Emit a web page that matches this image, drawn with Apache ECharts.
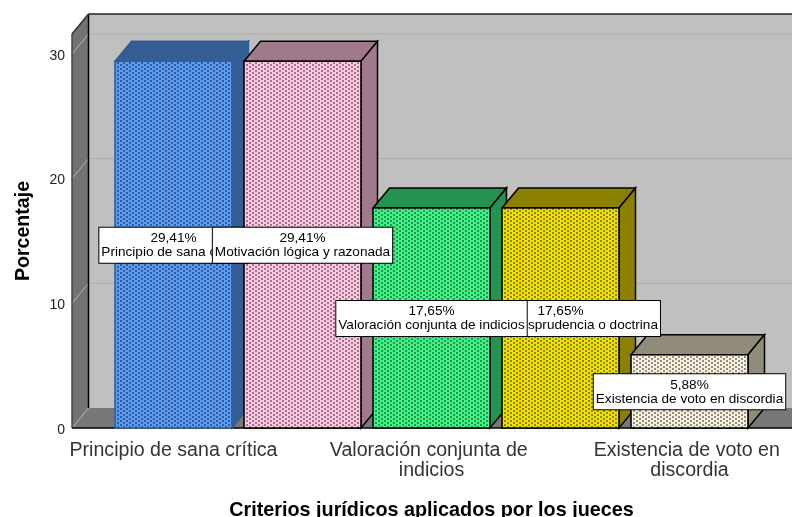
<!DOCTYPE html>
<html>
<head>
<meta charset="utf-8">
<style>
  html, body { margin: 0; padding: 0; background: #fff; }
  #chart { width: 792px; height: 517px; }
</style>
</head>
<body>
<div id="chart"></div>
<script src="https://cdn.jsdelivr.net/npm/echarts@6/dist/echarts.min.js"></script>
<script>
// start of the 4th name is hidden behind the 3rd box in the picture
const categories = [
  'Principio de sana crítica',
  'Motivación lógica y razonada',
  'Valoración conjunta de indicios',
  'Uso de jurisprudencia o doctrina',
  'Existencia de voto en discordia'
]
const percentages = [29.41, 29.41, 17.65, 17.65, 5.88]
const yTicks = [0, 10, 20, 30]

const faceColors = ['#5a9cf5', '#ffc6e4', '#40f585', '#f0e000', '#f5efdc']
const sideColors = ['#345d93', '#a07a8c', '#24934f', '#8c8000', '#918b7a']
const edgeColors = ['#345d93', '#000', '#000', '#000', '#000']

const depthX = 16.5
const depthY = 20
const fontFamily = '"Liberation Sans", Arial, sans-serif'

// dotted fill of the bars, same tile for every colour
function dotPattern(color) {
  const tile = document.createElement('canvas')
  tile.width = 6
  tile.height = 4
  const ctx = tile.getContext('2d')
  ctx.fillStyle = color
  ctx.fillRect(0, 0, 6, 4)
  ctx.fillStyle = 'rgba(0,0,0,0.4)'
  ctx.fillRect(0, 0, 2, 2)
  ctx.fillRect(3, 2, 2, 2)
  return { image: tile, repeat: 'repeat' }
}

function poly(points, fill, stroke, lineWidth) {
  return {
    type: 'polygon',
    shape: { points: points },
    style: { fill: fill, stroke: stroke || null, lineWidth: lineWidth || 0 }
  }
}

function line(x1, y1, x2, y2, stroke, lineWidth) {
  return {
    type: 'line',
    shape: { x1: x1, y1: y1, x2: x2, y2: y2 },
    style: { stroke: stroke, lineWidth: lineWidth }
  }
}

// back wall, left wall and floor
function renderWalls(params, api) {
  const base = api.coord([0, 0])[1]
  const top = api.coord([0, 31.6])[1]
  const left = 72
  const right = api.getWidth()
  const children = [
    poly([[left + depthX, top - depthY], [right, top - depthY], [right, base - depthY], [left + depthX, base - depthY]], '#c0c0c0'),
    poly([[left, top], [left + depthX, top - depthY], [left + depthX, base - depthY], [left, base]], '#737373'),
    poly([[left, base], [left + depthX, base - depthY], [right, base - depthY], [right, base]], '#787878')
  ]
  yTicks.forEach(tick => {
    const y = api.coord([0, tick])[1]
    if (tick > 0) {
      children.push(line(left + depthX, y - depthY, right, y - depthY, '#adadad', 1))
    }
    children.push(line(left, y, left + depthX, y - depthY, '#b4b4b4', 1))
  })
  children.push(line(left + depthX, base - depthY, left + depthX, top - depthY, '#000', 1.5))
  children.push(line(left + depthX, top - depthY, right, top - depthY, '#222', 1.5))
  children.push(line(left, top, left + depthX, top - depthY, '#333', 1.5))
  children.push(line(left, top, left, base, '#444', 1.5))
  children.push(line(left, base, right, base, '#000', 1.5))
  return { type: 'group', children: children }
}

function renderBar(params, api) {
  const i = params.dataIndex
  const center = api.coord([i, api.value(1)])
  const yt = center[1]
  const width = api.size([1, 0])[0] * 0.907
  const xl = center[0] - width / 2
  const xr = center[0] + width / 2
  const yb = api.coord([i, 0])[1]
  const edge = edgeColors[i]
  return {
    type: 'group',
    children: [
      poly([[xl, yt], [xl + depthX, yt - depthY], [xr + depthX, yt - depthY], [xr, yt]], sideColors[i], edge, 1.5),
      poly([[xr, yt], [xr + depthX, yt - depthY], [xr + depthX, yb - depthY], [xr, yb]], sideColors[i], edge, 1.5),
      {
        type: 'rect',
        shape: { x: xl, y: yt, width: width, height: yb - yt },
        style: { fill: dotPattern(faceColors[i]), stroke: edge, lineWidth: 1.5 }
      }
    ]
  }
}

function renderLabel(params, api) {
  const i = params.dataIndex
  const pos = api.coord([i, api.value(1) / 2])
  return {
    type: 'text',
    // the third box sits above the fourth, the others stack left to right
    z2: i === 2 ? 10 : i,
    style: {
      x: pos[0],
      y: pos[1] + 0.5,
      text: percentages[i].toFixed(2).replace('.', ',') + '%\n' + categories[i],
      align: 'center',
      verticalAlign: 'middle',
      font: '13.6px ' + fontFamily,
      lineHeight: 14,
      fill: '#000',
      backgroundColor: '#fff',
      borderColor: '#000',
      borderWidth: 1,
      padding: [7, 2, 0, 2]
    }
  }
}

const chart = echarts.init(document.getElementById('chart'), null, { renderer: 'canvas' })
chart.setOption({
  backgroundColor: '#fff',
  animation: false,
  grid: { left: 109, width: 645, top: 34, height: 394, outerBoundsMode: 'none' },
  xAxis: {
    type: 'category',
    data: categories,
    name: 'Criterios jurídicos aplicados por los jueces',
    nameLocation: 'middle',
    nameGap: 73,
    nameTextStyle: { fontFamily: fontFamily, fontSize: 19.8, fontWeight: 'bold', color: '#000' },
    axisLine: { show: false },
    axisTick: { show: false },
    axisLabel: {
      interval: 1,
      margin: 13,
      width: 240,
      overflow: 'break',
      fontFamily: fontFamily,
      fontSize: 19.6,
      lineHeight: 20,
      color: '#333'
    }
  },
  yAxis: {
    type: 'value',
    min: 0,
    max: 31.6,
    interval: 10,
    offset: 36,
    name: 'Porcentaje',
    nameLocation: 'middle',
    nameGap: 39,
    nameTextStyle: { fontFamily: fontFamily, fontSize: 19.6, fontWeight: 'bold', color: '#000' },
    axisLine: { show: false },
    axisTick: { show: false },
    splitLine: { show: false },
    axisLabel: { showMaxLabel: false, fontFamily: fontFamily, fontSize: 14, color: '#222', verticalAlign: 'top', lineHeight: 4 }
  },
  series: [
    { type: 'custom', silent: true, renderItem: renderWalls, data: [[0, 0]] },
    { type: 'custom', silent: true, renderItem: renderBar, data: percentages.map((v, i) => [i, v]) },
    { type: 'custom', silent: true, renderItem: renderLabel, data: percentages.map((v, i) => [i, v]) }
  ]
})
</script>
</body>
</html>
